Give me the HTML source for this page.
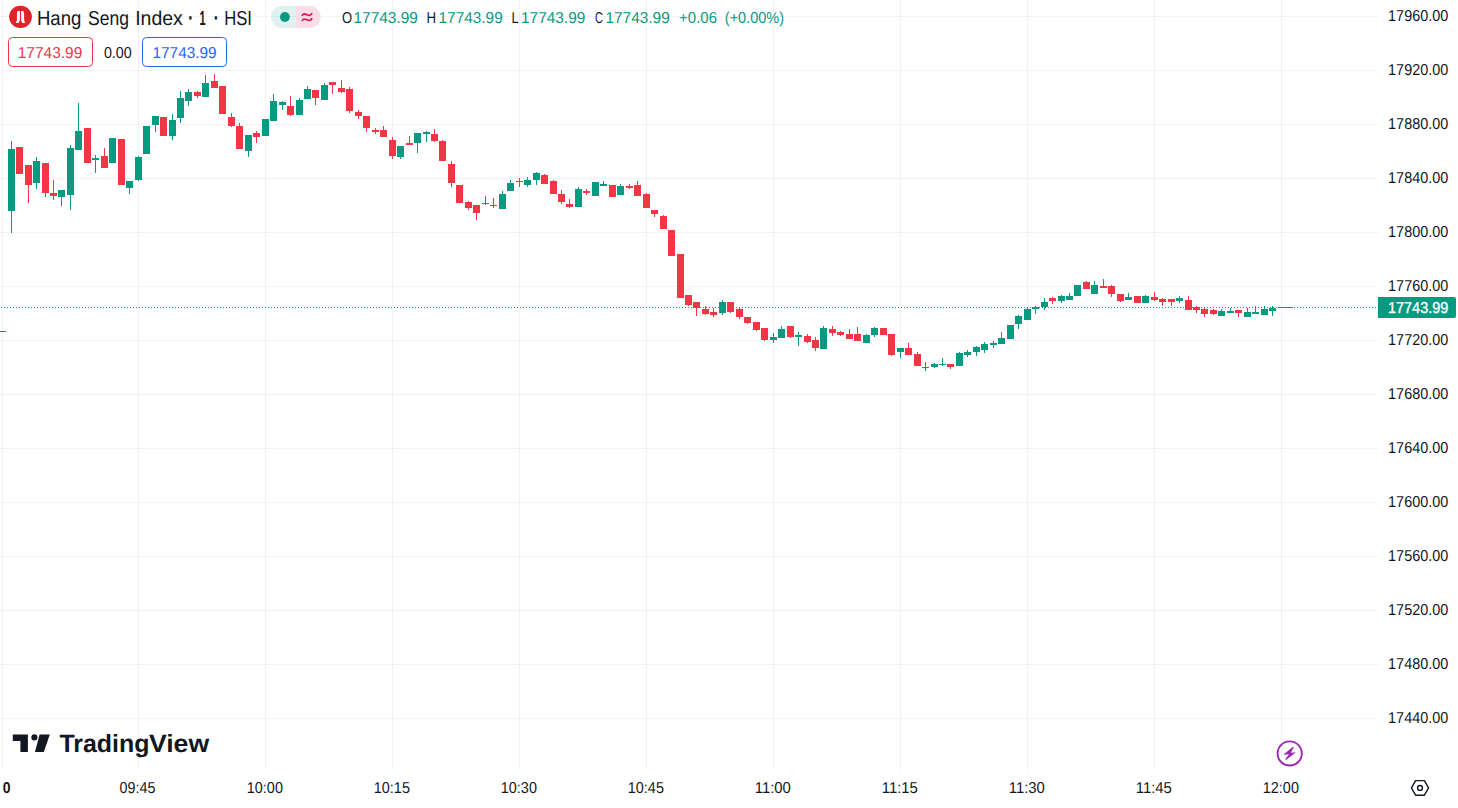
<!DOCTYPE html>
<html lang="en">
<head>
<meta charset="utf-8">
<title>Hang Seng Index chart</title>
<style>
html,body{margin:0;padding:0;background:#fff;overflow:hidden;}
body{width:1458px;height:808px;overflow:hidden;position:relative;font-family:"Liberation Sans", sans-serif;}
svg{position:absolute;left:0;top:0;display:block;}
svg text{font-family:"Liberation Sans", sans-serif;white-space:pre;}
</style>
</head>
<body>
<svg width="1458" height="808" viewBox="0 0 1458 808">
<g id="grid" shape-rendering="crispEdges">
<rect x="0" y="16" width="1378" height="1" fill="rgba(42,52,57,0.058)"/>
<rect x="0" y="70" width="1378" height="1" fill="rgba(42,52,57,0.058)"/>
<rect x="0" y="124" width="1378" height="1" fill="rgba(42,52,57,0.058)"/>
<rect x="0" y="178" width="1378" height="1" fill="rgba(42,52,57,0.058)"/>
<rect x="0" y="232" width="1378" height="1" fill="rgba(42,52,57,0.058)"/>
<rect x="0" y="286" width="1378" height="1" fill="rgba(42,52,57,0.058)"/>
<rect x="0" y="340" width="1378" height="1" fill="rgba(42,52,57,0.058)"/>
<rect x="0" y="394" width="1378" height="1" fill="rgba(42,52,57,0.058)"/>
<rect x="0" y="448" width="1378" height="1" fill="rgba(42,52,57,0.058)"/>
<rect x="0" y="502" width="1378" height="1" fill="rgba(42,52,57,0.058)"/>
<rect x="0" y="556" width="1378" height="1" fill="rgba(42,52,57,0.058)"/>
<rect x="0" y="610" width="1378" height="1" fill="rgba(42,52,57,0.058)"/>
<rect x="0" y="664" width="1378" height="1" fill="rgba(42,52,57,0.058)"/>
<rect x="0" y="718" width="1378" height="1" fill="rgba(42,52,57,0.058)"/>
<rect x="2" y="0" width="1" height="770" fill="rgba(42,52,57,0.058)"/>
<rect x="138" y="0" width="1" height="770" fill="rgba(42,52,57,0.058)"/>
<rect x="265" y="0" width="1" height="770" fill="rgba(42,52,57,0.058)"/>
<rect x="392" y="0" width="1" height="770" fill="rgba(42,52,57,0.058)"/>
<rect x="519" y="0" width="1" height="770" fill="rgba(42,52,57,0.058)"/>
<rect x="646" y="0" width="1" height="770" fill="rgba(42,52,57,0.058)"/>
<rect x="773" y="0" width="1" height="770" fill="rgba(42,52,57,0.058)"/>
<rect x="900" y="0" width="1" height="770" fill="rgba(42,52,57,0.058)"/>
<rect x="1027" y="0" width="1" height="770" fill="rgba(42,52,57,0.058)"/>
<rect x="1154" y="0" width="1" height="770" fill="rgba(42,52,57,0.058)"/>
<rect x="1281" y="0" width="1" height="770" fill="rgba(42,52,57,0.058)"/>
</g>
<g id="candles" shape-rendering="crispEdges">
<rect x="-1" y="331" width="7" height="1" fill="#089981"/>
<rect x="11" y="141" width="1" height="92" fill="#089981"/>
<rect x="8" y="149" width="7" height="62" fill="#089981"/>
<rect x="16" y="147" width="7" height="27" fill="#f23645"/>
<rect x="28" y="165" width="1" height="38" fill="#f23645"/>
<rect x="25" y="165" width="7" height="20" fill="#f23645"/>
<rect x="36" y="157" width="1" height="32" fill="#089981"/>
<rect x="33" y="161" width="7" height="22" fill="#089981"/>
<rect x="45" y="163" width="1" height="34" fill="#f23645"/>
<rect x="42" y="163" width="7" height="30" fill="#f23645"/>
<rect x="53" y="180" width="1" height="20" fill="#f23645"/>
<rect x="50" y="193" width="7" height="3" fill="#f23645"/>
<rect x="61" y="190" width="1" height="16" fill="#089981"/>
<rect x="58" y="190" width="7" height="7" fill="#089981"/>
<rect x="70" y="145" width="1" height="65" fill="#089981"/>
<rect x="67" y="148" width="7" height="47" fill="#089981"/>
<rect x="78" y="103" width="1" height="47" fill="#089981"/>
<rect x="75" y="131" width="7" height="19" fill="#089981"/>
<rect x="84" y="128" width="7" height="35" fill="#f23645"/>
<rect x="95" y="155" width="1" height="18" fill="#089981"/>
<rect x="92" y="158" width="7" height="2" fill="#089981"/>
<rect x="104" y="148" width="1" height="20" fill="#f23645"/>
<rect x="101" y="156" width="7" height="12" fill="#f23645"/>
<rect x="109" y="138" width="7" height="25" fill="#089981"/>
<rect x="118" y="139" width="7" height="46" fill="#f23645"/>
<rect x="129" y="181" width="1" height="13" fill="#089981"/>
<rect x="126" y="181" width="7" height="7" fill="#089981"/>
<rect x="138" y="156" width="1" height="25" fill="#089981"/>
<rect x="135" y="157" width="7" height="23" fill="#089981"/>
<rect x="143" y="126" width="7" height="28" fill="#089981"/>
<rect x="155" y="116" width="1" height="16" fill="#089981"/>
<rect x="152" y="116" width="7" height="9" fill="#089981"/>
<rect x="160" y="117" width="7" height="19" fill="#f23645"/>
<rect x="172" y="114" width="1" height="26" fill="#089981"/>
<rect x="169" y="120" width="7" height="16" fill="#089981"/>
<rect x="180" y="91" width="1" height="32" fill="#089981"/>
<rect x="177" y="98" width="7" height="20" fill="#089981"/>
<rect x="188" y="89" width="1" height="17" fill="#089981"/>
<rect x="185" y="92" width="7" height="9" fill="#089981"/>
<rect x="197" y="91" width="1" height="7" fill="#f23645"/>
<rect x="194" y="92" width="7" height="4" fill="#f23645"/>
<rect x="205" y="75" width="1" height="22" fill="#089981"/>
<rect x="202" y="83" width="7" height="14" fill="#089981"/>
<rect x="214" y="74" width="1" height="14" fill="#f23645"/>
<rect x="211" y="81" width="7" height="7" fill="#f23645"/>
<rect x="219" y="86" width="7" height="28" fill="#f23645"/>
<rect x="231" y="113" width="1" height="14" fill="#f23645"/>
<rect x="228" y="117" width="7" height="9" fill="#f23645"/>
<rect x="239" y="123" width="1" height="26" fill="#f23645"/>
<rect x="236" y="126" width="7" height="23" fill="#f23645"/>
<rect x="248" y="135" width="1" height="22" fill="#089981"/>
<rect x="245" y="135" width="7" height="16" fill="#089981"/>
<rect x="256" y="131" width="1" height="12" fill="#f23645"/>
<rect x="253" y="133" width="7" height="4" fill="#f23645"/>
<rect x="262" y="119" width="7" height="17" fill="#089981"/>
<rect x="273" y="94" width="1" height="27" fill="#089981"/>
<rect x="270" y="101" width="7" height="20" fill="#089981"/>
<rect x="282" y="101" width="1" height="9" fill="#089981"/>
<rect x="279" y="102" width="7" height="3" fill="#089981"/>
<rect x="290" y="96" width="1" height="20" fill="#f23645"/>
<rect x="287" y="106" width="7" height="9" fill="#f23645"/>
<rect x="299" y="98" width="1" height="17" fill="#089981"/>
<rect x="296" y="100" width="7" height="15" fill="#089981"/>
<rect x="307" y="86" width="1" height="13" fill="#089981"/>
<rect x="304" y="89" width="7" height="10" fill="#089981"/>
<rect x="315" y="90" width="1" height="15" fill="#f23645"/>
<rect x="312" y="90" width="7" height="8" fill="#f23645"/>
<rect x="324" y="83" width="1" height="17" fill="#089981"/>
<rect x="321" y="85" width="7" height="15" fill="#089981"/>
<rect x="332" y="82" width="1" height="12" fill="#f23645"/>
<rect x="329" y="82" width="7" height="3" fill="#f23645"/>
<rect x="341" y="80" width="1" height="13" fill="#f23645"/>
<rect x="338" y="88" width="7" height="4" fill="#f23645"/>
<rect x="349" y="87" width="1" height="26" fill="#f23645"/>
<rect x="346" y="89" width="7" height="22" fill="#f23645"/>
<rect x="358" y="110" width="1" height="9" fill="#f23645"/>
<rect x="355" y="112" width="7" height="4" fill="#f23645"/>
<rect x="366" y="116" width="1" height="16" fill="#f23645"/>
<rect x="363" y="116" width="7" height="12" fill="#f23645"/>
<rect x="375" y="128" width="1" height="6" fill="#f23645"/>
<rect x="372" y="130" width="7" height="2" fill="#f23645"/>
<rect x="383" y="126" width="1" height="11" fill="#f23645"/>
<rect x="380" y="130" width="7" height="7" fill="#f23645"/>
<rect x="392" y="137" width="1" height="22" fill="#f23645"/>
<rect x="389" y="140" width="7" height="16" fill="#f23645"/>
<rect x="400" y="146" width="1" height="13" fill="#089981"/>
<rect x="397" y="146" width="7" height="11" fill="#089981"/>
<rect x="409" y="136" width="1" height="9" fill="#f23645"/>
<rect x="406" y="143" width="7" height="2" fill="#f23645"/>
<rect x="417" y="133" width="1" height="20" fill="#089981"/>
<rect x="414" y="133" width="7" height="10" fill="#089981"/>
<rect x="426" y="131" width="1" height="11" fill="#089981"/>
<rect x="423" y="132" width="7" height="2" fill="#089981"/>
<rect x="434" y="129" width="1" height="13" fill="#f23645"/>
<rect x="431" y="134" width="7" height="7" fill="#f23645"/>
<rect x="442" y="140" width="1" height="21" fill="#f23645"/>
<rect x="439" y="141" width="7" height="20" fill="#f23645"/>
<rect x="451" y="161" width="1" height="26" fill="#f23645"/>
<rect x="448" y="164" width="7" height="19" fill="#f23645"/>
<rect x="456" y="185" width="7" height="18" fill="#f23645"/>
<rect x="468" y="201" width="1" height="9" fill="#f23645"/>
<rect x="465" y="202" width="7" height="6" fill="#f23645"/>
<rect x="476" y="205" width="1" height="15" fill="#f23645"/>
<rect x="473" y="205" width="7" height="8" fill="#f23645"/>
<rect x="485" y="196" width="1" height="9" fill="#089981"/>
<rect x="482" y="203" width="7" height="1" fill="#089981"/>
<rect x="493" y="198" width="1" height="10" fill="#f23645"/>
<rect x="490" y="205" width="7" height="1" fill="#f23645"/>
<rect x="502" y="191" width="1" height="18" fill="#089981"/>
<rect x="499" y="194" width="7" height="15" fill="#089981"/>
<rect x="510" y="180" width="1" height="11" fill="#089981"/>
<rect x="507" y="183" width="7" height="8" fill="#089981"/>
<rect x="519" y="178" width="1" height="9" fill="#f23645"/>
<rect x="516" y="181" width="7" height="1" fill="#f23645"/>
<rect x="527" y="177" width="1" height="10" fill="#089981"/>
<rect x="524" y="180" width="7" height="5" fill="#089981"/>
<rect x="536" y="172" width="1" height="13" fill="#089981"/>
<rect x="533" y="173" width="7" height="7" fill="#089981"/>
<rect x="544" y="174" width="1" height="10" fill="#f23645"/>
<rect x="541" y="175" width="7" height="9" fill="#f23645"/>
<rect x="553" y="180" width="1" height="14" fill="#f23645"/>
<rect x="550" y="181" width="7" height="13" fill="#f23645"/>
<rect x="561" y="190" width="1" height="14" fill="#f23645"/>
<rect x="558" y="194" width="7" height="8" fill="#f23645"/>
<rect x="569" y="199" width="1" height="9" fill="#f23645"/>
<rect x="566" y="204" width="7" height="3" fill="#f23645"/>
<rect x="578" y="187" width="1" height="20" fill="#089981"/>
<rect x="575" y="189" width="7" height="18" fill="#089981"/>
<rect x="586" y="189" width="1" height="6" fill="#f23645"/>
<rect x="583" y="191" width="7" height="2" fill="#f23645"/>
<rect x="592" y="182" width="7" height="14" fill="#089981"/>
<rect x="603" y="181" width="1" height="5" fill="#089981"/>
<rect x="600" y="184" width="7" height="2" fill="#089981"/>
<rect x="609" y="185" width="7" height="12" fill="#f23645"/>
<rect x="620" y="184" width="1" height="11" fill="#089981"/>
<rect x="617" y="186" width="7" height="9" fill="#089981"/>
<rect x="629" y="184" width="1" height="5" fill="#f23645"/>
<rect x="626" y="186" width="7" height="2" fill="#f23645"/>
<rect x="637" y="181" width="1" height="15" fill="#f23645"/>
<rect x="634" y="185" width="7" height="11" fill="#f23645"/>
<rect x="646" y="193" width="1" height="15" fill="#f23645"/>
<rect x="643" y="194" width="7" height="14" fill="#f23645"/>
<rect x="654" y="210" width="1" height="7" fill="#f23645"/>
<rect x="651" y="210" width="7" height="4" fill="#f23645"/>
<rect x="663" y="215" width="1" height="14" fill="#f23645"/>
<rect x="660" y="216" width="7" height="13" fill="#f23645"/>
<rect x="668" y="230" width="7" height="26" fill="#f23645"/>
<rect x="677" y="254" width="7" height="44" fill="#f23645"/>
<rect x="688" y="295" width="1" height="11" fill="#f23645"/>
<rect x="685" y="295" width="7" height="10" fill="#f23645"/>
<rect x="696" y="302" width="1" height="14" fill="#f23645"/>
<rect x="693" y="302" width="7" height="6" fill="#f23645"/>
<rect x="705" y="306" width="1" height="9" fill="#f23645"/>
<rect x="702" y="309" width="7" height="5" fill="#f23645"/>
<rect x="713" y="308" width="1" height="9" fill="#f23645"/>
<rect x="710" y="312" width="7" height="3" fill="#f23645"/>
<rect x="722" y="300" width="1" height="15" fill="#089981"/>
<rect x="719" y="302" width="7" height="11" fill="#089981"/>
<rect x="730" y="302" width="1" height="11" fill="#f23645"/>
<rect x="727" y="302" width="7" height="10" fill="#f23645"/>
<rect x="739" y="307" width="1" height="12" fill="#f23645"/>
<rect x="736" y="309" width="7" height="8" fill="#f23645"/>
<rect x="747" y="317" width="1" height="7" fill="#f23645"/>
<rect x="744" y="317" width="7" height="6" fill="#f23645"/>
<rect x="756" y="322" width="1" height="9" fill="#f23645"/>
<rect x="753" y="322" width="7" height="8" fill="#f23645"/>
<rect x="764" y="328" width="1" height="13" fill="#f23645"/>
<rect x="761" y="328" width="7" height="12" fill="#f23645"/>
<rect x="773" y="333" width="1" height="10" fill="#089981"/>
<rect x="770" y="337" width="7" height="3" fill="#089981"/>
<rect x="781" y="326" width="1" height="12" fill="#089981"/>
<rect x="778" y="329" width="7" height="9" fill="#089981"/>
<rect x="790" y="326" width="1" height="12" fill="#f23645"/>
<rect x="787" y="326" width="7" height="11" fill="#f23645"/>
<rect x="798" y="332" width="1" height="14" fill="#089981"/>
<rect x="795" y="335" width="7" height="2" fill="#089981"/>
<rect x="807" y="334" width="1" height="9" fill="#f23645"/>
<rect x="804" y="336" width="7" height="6" fill="#f23645"/>
<rect x="815" y="337" width="1" height="14" fill="#f23645"/>
<rect x="812" y="340" width="7" height="8" fill="#f23645"/>
<rect x="823" y="326" width="1" height="23" fill="#089981"/>
<rect x="820" y="328" width="7" height="21" fill="#089981"/>
<rect x="832" y="326" width="1" height="10" fill="#f23645"/>
<rect x="829" y="329" width="7" height="4" fill="#f23645"/>
<rect x="840" y="331" width="1" height="5" fill="#f23645"/>
<rect x="837" y="332" width="7" height="3" fill="#f23645"/>
<rect x="849" y="329" width="1" height="10" fill="#f23645"/>
<rect x="846" y="334" width="7" height="5" fill="#f23645"/>
<rect x="857" y="327" width="1" height="14" fill="#f23645"/>
<rect x="854" y="334" width="7" height="7" fill="#f23645"/>
<rect x="866" y="334" width="1" height="9" fill="#089981"/>
<rect x="863" y="335" width="7" height="8" fill="#089981"/>
<rect x="874" y="327" width="1" height="10" fill="#089981"/>
<rect x="871" y="328" width="7" height="7" fill="#089981"/>
<rect x="880" y="328" width="7" height="7" fill="#f23645"/>
<rect x="891" y="334" width="1" height="22" fill="#f23645"/>
<rect x="888" y="334" width="7" height="21" fill="#f23645"/>
<rect x="900" y="348" width="1" height="10" fill="#089981"/>
<rect x="897" y="348" width="7" height="4" fill="#089981"/>
<rect x="908" y="343" width="1" height="12" fill="#f23645"/>
<rect x="905" y="348" width="7" height="7" fill="#f23645"/>
<rect x="917" y="352" width="1" height="14" fill="#f23645"/>
<rect x="914" y="354" width="7" height="12" fill="#f23645"/>
<rect x="925" y="362" width="1" height="9" fill="#f23645"/>
<rect x="922" y="367" width="7" height="1" fill="#f23645"/>
<rect x="934" y="363" width="1" height="5" fill="#089981"/>
<rect x="931" y="364" width="7" height="3" fill="#089981"/>
<rect x="942" y="358" width="1" height="8" fill="#089981"/>
<rect x="939" y="364" width="7" height="1" fill="#089981"/>
<rect x="950" y="364" width="1" height="5" fill="#f23645"/>
<rect x="947" y="364" width="7" height="3" fill="#f23645"/>
<rect x="959" y="352" width="1" height="14" fill="#089981"/>
<rect x="956" y="353" width="7" height="13" fill="#089981"/>
<rect x="967" y="350" width="1" height="7" fill="#089981"/>
<rect x="964" y="352" width="7" height="3" fill="#089981"/>
<rect x="976" y="346" width="1" height="10" fill="#089981"/>
<rect x="973" y="347" width="7" height="5" fill="#089981"/>
<rect x="984" y="342" width="1" height="11" fill="#089981"/>
<rect x="981" y="344" width="7" height="6" fill="#089981"/>
<rect x="993" y="341" width="1" height="7" fill="#089981"/>
<rect x="990" y="343" width="7" height="2" fill="#089981"/>
<rect x="1001" y="332" width="1" height="12" fill="#089981"/>
<rect x="998" y="338" width="7" height="6" fill="#089981"/>
<rect x="1007" y="325" width="7" height="14" fill="#089981"/>
<rect x="1018" y="315" width="1" height="14" fill="#089981"/>
<rect x="1015" y="316" width="7" height="8" fill="#089981"/>
<rect x="1027" y="307" width="1" height="13" fill="#089981"/>
<rect x="1024" y="309" width="7" height="11" fill="#089981"/>
<rect x="1035" y="306" width="1" height="8" fill="#089981"/>
<rect x="1032" y="307" width="7" height="2" fill="#089981"/>
<rect x="1044" y="298" width="1" height="12" fill="#089981"/>
<rect x="1041" y="302" width="7" height="5" fill="#089981"/>
<rect x="1052" y="297" width="1" height="7" fill="#f23645"/>
<rect x="1049" y="298" width="7" height="3" fill="#f23645"/>
<rect x="1061" y="295" width="1" height="8" fill="#089981"/>
<rect x="1058" y="296" width="7" height="5" fill="#089981"/>
<rect x="1069" y="293" width="1" height="7" fill="#089981"/>
<rect x="1066" y="296" width="7" height="4" fill="#089981"/>
<rect x="1074" y="285" width="7" height="11" fill="#089981"/>
<rect x="1086" y="281" width="1" height="8" fill="#f23645"/>
<rect x="1083" y="282" width="7" height="7" fill="#f23645"/>
<rect x="1094" y="281" width="1" height="13" fill="#089981"/>
<rect x="1091" y="285" width="7" height="9" fill="#089981"/>
<rect x="1103" y="279" width="1" height="9" fill="#f23645"/>
<rect x="1100" y="286" width="7" height="2" fill="#f23645"/>
<rect x="1111" y="285" width="1" height="12" fill="#f23645"/>
<rect x="1108" y="286" width="7" height="8" fill="#f23645"/>
<rect x="1120" y="294" width="1" height="8" fill="#f23645"/>
<rect x="1117" y="294" width="7" height="7" fill="#f23645"/>
<rect x="1128" y="293" width="1" height="7" fill="#089981"/>
<rect x="1125" y="297" width="7" height="3" fill="#089981"/>
<rect x="1134" y="296" width="7" height="7" fill="#f23645"/>
<rect x="1145" y="295" width="1" height="8" fill="#089981"/>
<rect x="1142" y="296" width="7" height="7" fill="#089981"/>
<rect x="1154" y="292" width="1" height="9" fill="#f23645"/>
<rect x="1151" y="297" width="7" height="3" fill="#f23645"/>
<rect x="1162" y="298" width="1" height="8" fill="#f23645"/>
<rect x="1159" y="299" width="7" height="3" fill="#f23645"/>
<rect x="1171" y="299" width="1" height="7" fill="#f23645"/>
<rect x="1168" y="299" width="7" height="3" fill="#f23645"/>
<rect x="1179" y="296" width="1" height="7" fill="#089981"/>
<rect x="1176" y="298" width="7" height="3" fill="#089981"/>
<rect x="1188" y="296" width="1" height="14" fill="#f23645"/>
<rect x="1185" y="300" width="7" height="10" fill="#f23645"/>
<rect x="1196" y="306" width="1" height="7" fill="#f23645"/>
<rect x="1193" y="307" width="7" height="3" fill="#f23645"/>
<rect x="1204" y="308" width="1" height="9" fill="#f23645"/>
<rect x="1201" y="309" width="7" height="5" fill="#f23645"/>
<rect x="1213" y="309" width="1" height="6" fill="#f23645"/>
<rect x="1210" y="310" width="7" height="4" fill="#f23645"/>
<rect x="1221" y="309" width="1" height="7" fill="#089981"/>
<rect x="1218" y="311" width="7" height="5" fill="#089981"/>
<rect x="1230" y="308" width="1" height="5" fill="#089981"/>
<rect x="1227" y="311" width="7" height="2" fill="#089981"/>
<rect x="1238" y="310" width="1" height="7" fill="#f23645"/>
<rect x="1235" y="310" width="7" height="3" fill="#f23645"/>
<rect x="1247" y="308" width="1" height="9" fill="#089981"/>
<rect x="1244" y="312" width="7" height="5" fill="#089981"/>
<rect x="1255" y="306" width="1" height="8" fill="#089981"/>
<rect x="1252" y="312" width="7" height="2" fill="#089981"/>
<rect x="1264" y="306" width="1" height="9" fill="#089981"/>
<rect x="1261" y="309" width="7" height="6" fill="#089981"/>
<rect x="1272" y="306" width="1" height="10" fill="#089981"/>
<rect x="1269" y="308" width="7" height="3" fill="#089981"/>
<rect x="1278" y="307" width="7" height="1" fill="#089981"/>
<rect x="1286" y="307" width="7" height="1" fill="#089981"/>
<path d="M1 307.5H1378" stroke="#089981" stroke-width="1" stroke-dasharray="1 2" fill="none"/>
</g>
<!-- price label -->
<path d="M1378 297H1454a2 2 0 0 1 2 2V316a2 2 0 0 1 -2 2H1378Z" fill="#089981"/>
<!-- status pill -->
<path d="M282.1 5.9H295.8V28.1H282.1a11.1 11.1 0 0 1 0 -22.2Z" fill="#089981" fill-opacity="0.13"/>
<path d="M295.8 5.9H309.6a11.1 11.1 0 0 1 0 22.2H295.8Z" fill="#f7c6d6" fill-opacity="0.6"/>
<circle cx="284.9" cy="17" r="4.9" fill="#089981"/>
<g fill="none" stroke="#e0195a" stroke-width="1.8" stroke-linecap="butt">
<path d="M301.9 15.8C303.3 13.4 305.2 13.7 307 14.7S310.6 15.9 312.1 13.1"/>
<path d="M301.9 20.9C303.3 18.5 305.2 18.8 307 19.8S310.6 21 312.1 18.2"/>
</g>
<!-- symbol logo -->
<ellipse cx="20.5" cy="16.85" rx="11.4" ry="11.15" fill="#de2329"/>
<g fill="#fff">
<path d="M17.7 11H19.9V19C19.9 20.6 19.3 21.8 18.6 22.9H15.6C16.5 21.6 16.9 20.4 16.9 19V14.4C16.9 13 17.2 12 17.7 11Z"/>
<path d="M23.3 11H21.1V19C21.1 20.6 21.7 21.8 22.4 22.9H25.4C24.5 21.6 24.1 20.4 24.1 19V14.4C24.1 13 23.8 12 23.3 11Z"/>
</g>
<!-- legend boxes -->
<rect x="8.5" y="37.5" width="84" height="29" rx="4" fill="none" stroke="#f23645" stroke-width="1"/>
<rect x="142.5" y="37.5" width="84" height="29" rx="4" fill="none" stroke="#2962ff" stroke-width="1"/>
<!-- TradingView logo mark -->
<g fill="#131722">
<path d="M12.8 734.4H27.9V751.9H20.4V740.9H12.8Z"/>
<circle cx="34.4" cy="737.4" r="3.05"/>
<path d="M39.6 734.4H49.8L43.8 751.9H35Z"/>
</g>
<!-- lightning icon -->
<g fill="none" stroke="#9c27b0">
<circle cx="1289.7" cy="753.45" r="12.1" stroke-width="1.9"/>
</g>
<path d="M1292.7 746.9L1293.9 747.2L1290.7 752.7L1295.9 752.2L1294.6 753.2L1286.1 760.1L1285.2 759.5L1289 754.3L1283.3 754.8L1284.8 753.6Z" fill="#9c27b0"/>
<!-- settings hex icon -->
<g fill="none" stroke="#131722" stroke-width="1.4" stroke-linejoin="round">
<path d="M1411.4 787.9l4.2-7.3h8.8l4.2 7.3-4.2 7.3h-8.8z"/>
<circle cx="1420.0" cy="787.9" r="2.45"/>
</g>
<g id="labels">
<text transform="translate(36.88 25.00) matrix(1 0 0.002 1 0 0)" font-size="20.2" font-weight="400" fill="#131722" textLength="44.45" lengthAdjust="spacingAndGlyphs">Hang</text>
<text transform="translate(88.00 25.00) matrix(1 0 0.002 1 0 0)" font-size="20.2" font-weight="400" fill="#131722" textLength="40.97" lengthAdjust="spacingAndGlyphs">Seng</text>
<text transform="translate(135.13 25.00) matrix(1 0 0.002 1 0 0)" font-size="20.2" font-weight="400" fill="#131722" textLength="47.76" lengthAdjust="spacingAndGlyphs">Index</text>
<text transform="translate(186.62 25.90) matrix(1 0 0.002 1 0 0)" font-size="30" font-weight="400" fill="#131722" textLength="7.74" lengthAdjust="spacingAndGlyphs">·</text>
<text transform="translate(199.56 25.00) matrix(1 0 0.002 1 0 0)" font-size="20.2" font-weight="700" fill="#131722" textLength="6.06" lengthAdjust="spacingAndGlyphs">1</text>
<text transform="translate(212.07 25.90) matrix(1 0 0.002 1 0 0)" font-size="30" font-weight="400" fill="#131722" textLength="7.74" lengthAdjust="spacingAndGlyphs">·</text>
<text transform="translate(224.18 25.00) matrix(1 0 0.002 1 0 0)" font-size="20.2" font-weight="400" fill="#131722" textLength="27.75" lengthAdjust="spacingAndGlyphs">HSI</text>
<text transform="translate(341.90 23.00) matrix(1 0 0.002 1 0 0)" font-size="15.8" font-weight="400" fill="#131722" textLength="10.14" lengthAdjust="spacingAndGlyphs">O</text>
<text transform="translate(353.52 23.00) matrix(1 0 0.002 1 0 0)" font-size="15.8" font-weight="400" fill="#089981" textLength="64.37" lengthAdjust="spacingAndGlyphs">17743.99</text>
<text transform="translate(426.56 23.00) matrix(1 0 0.002 1 0 0)" font-size="15.8" font-weight="400" fill="#131722" textLength="9.58" lengthAdjust="spacingAndGlyphs">H</text>
<text transform="translate(438.53 23.00) matrix(1 0 0.002 1 0 0)" font-size="15.8" font-weight="400" fill="#089981" textLength="64.16" lengthAdjust="spacingAndGlyphs">17743.99</text>
<text transform="translate(511.49 23.00) matrix(1 0 0.002 1 0 0)" font-size="15.8" font-weight="400" fill="#131722" textLength="7.14" lengthAdjust="spacingAndGlyphs">L</text>
<text transform="translate(521.02 23.00) matrix(1 0 0.002 1 0 0)" font-size="15.8" font-weight="400" fill="#089981" textLength="64.27" lengthAdjust="spacingAndGlyphs">17743.99</text>
<text transform="translate(595.10 23.00) matrix(1 0 0.002 1 0 0)" font-size="15.8" font-weight="400" fill="#131722" textLength="7.88" lengthAdjust="spacingAndGlyphs">C</text>
<text transform="translate(605.42 23.00) matrix(1 0 0.002 1 0 0)" font-size="15.8" font-weight="400" fill="#089981" textLength="64.37" lengthAdjust="spacingAndGlyphs">17743.99</text>
<text transform="translate(679.10 23.00) matrix(1 0 0.002 1 0 0)" font-size="15.8" font-weight="400" fill="#089981" textLength="37.90" lengthAdjust="spacingAndGlyphs">+0.06</text>
<text transform="translate(724.80 23.00) matrix(1 0 0.002 1 0 0)" font-size="15.8" font-weight="400" fill="#089981" textLength="59.24" lengthAdjust="spacingAndGlyphs">(+0.00%)</text>
<text transform="translate(17.67 58.00) matrix(1 0 0.002 1 0 0)" font-size="15.8" font-weight="400" fill="#f23645" textLength="64.62" lengthAdjust="spacingAndGlyphs">17743.99</text>
<text transform="translate(103.90 58.00) matrix(1 0 0.002 1 0 0)" font-size="15.8" font-weight="400" fill="#131722" textLength="27.91" lengthAdjust="spacingAndGlyphs">0.00</text>
<text transform="translate(152.42 58.00) matrix(1 0 0.002 1 0 0)" font-size="15.8" font-weight="400" fill="#2962ff" textLength="64.27" lengthAdjust="spacingAndGlyphs">17743.99</text>
<text transform="translate(1388.09 21.00) matrix(1 0 0.002 1 0 0)" font-size="15.8" font-weight="400" fill="#131722" textLength="60.22" lengthAdjust="spacingAndGlyphs">17960.00</text>
<text transform="translate(1388.09 75.00) matrix(1 0 0.002 1 0 0)" font-size="15.8" font-weight="400" fill="#131722" textLength="60.22" lengthAdjust="spacingAndGlyphs">17920.00</text>
<text transform="translate(1388.09 129.00) matrix(1 0 0.002 1 0 0)" font-size="15.8" font-weight="400" fill="#131722" textLength="60.22" lengthAdjust="spacingAndGlyphs">17880.00</text>
<text transform="translate(1388.09 183.00) matrix(1 0 0.002 1 0 0)" font-size="15.8" font-weight="400" fill="#131722" textLength="60.22" lengthAdjust="spacingAndGlyphs">17840.00</text>
<text transform="translate(1388.09 237.00) matrix(1 0 0.002 1 0 0)" font-size="15.8" font-weight="400" fill="#131722" textLength="60.22" lengthAdjust="spacingAndGlyphs">17800.00</text>
<text transform="translate(1388.09 291.00) matrix(1 0 0.002 1 0 0)" font-size="15.8" font-weight="400" fill="#131722" textLength="60.22" lengthAdjust="spacingAndGlyphs">17760.00</text>
<text transform="translate(1388.09 345.00) matrix(1 0 0.002 1 0 0)" font-size="15.8" font-weight="400" fill="#131722" textLength="60.22" lengthAdjust="spacingAndGlyphs">17720.00</text>
<text transform="translate(1388.09 399.00) matrix(1 0 0.002 1 0 0)" font-size="15.8" font-weight="400" fill="#131722" textLength="60.22" lengthAdjust="spacingAndGlyphs">17680.00</text>
<text transform="translate(1388.09 453.00) matrix(1 0 0.002 1 0 0)" font-size="15.8" font-weight="400" fill="#131722" textLength="60.22" lengthAdjust="spacingAndGlyphs">17640.00</text>
<text transform="translate(1388.09 507.00) matrix(1 0 0.002 1 0 0)" font-size="15.8" font-weight="400" fill="#131722" textLength="60.22" lengthAdjust="spacingAndGlyphs">17600.00</text>
<text transform="translate(1388.09 561.00) matrix(1 0 0.002 1 0 0)" font-size="15.8" font-weight="400" fill="#131722" textLength="60.22" lengthAdjust="spacingAndGlyphs">17560.00</text>
<text transform="translate(1388.09 615.00) matrix(1 0 0.002 1 0 0)" font-size="15.8" font-weight="400" fill="#131722" textLength="60.22" lengthAdjust="spacingAndGlyphs">17520.00</text>
<text transform="translate(1388.09 669.00) matrix(1 0 0.002 1 0 0)" font-size="15.8" font-weight="400" fill="#131722" textLength="60.22" lengthAdjust="spacingAndGlyphs">17480.00</text>
<text transform="translate(1388.09 723.00) matrix(1 0 0.002 1 0 0)" font-size="15.8" font-weight="400" fill="#131722" textLength="60.22" lengthAdjust="spacingAndGlyphs">17440.00</text>
<text transform="translate(1387.98 313.00) matrix(1 0 0.002 1 0 0)" font-size="15.8" font-weight="400" fill="#ffffff" stroke="#ffffff" stroke-width="0.35" textLength="60.32" lengthAdjust="spacingAndGlyphs">17743.99</text>
<text transform="translate(119.50 793.00) matrix(1 0 0.002 1 0 0)" font-size="15.8" font-weight="400" fill="#131722" textLength="35.91" lengthAdjust="spacingAndGlyphs">09:45</text>
<text transform="translate(246.79 793.00) matrix(1 0 0.002 1 0 0)" font-size="15.8" font-weight="400" fill="#131722" textLength="36.12" lengthAdjust="spacingAndGlyphs">10:00</text>
<text transform="translate(373.79 793.00) matrix(1 0 0.002 1 0 0)" font-size="15.8" font-weight="400" fill="#131722" textLength="36.12" lengthAdjust="spacingAndGlyphs">10:15</text>
<text transform="translate(500.79 793.00) matrix(1 0 0.002 1 0 0)" font-size="15.8" font-weight="400" fill="#131722" textLength="36.12" lengthAdjust="spacingAndGlyphs">10:30</text>
<text transform="translate(627.79 793.00) matrix(1 0 0.002 1 0 0)" font-size="15.8" font-weight="400" fill="#131722" textLength="36.12" lengthAdjust="spacingAndGlyphs">10:45</text>
<text transform="translate(754.76 793.00) matrix(1 0 0.002 1 0 0)" font-size="15.8" font-weight="400" fill="#131722" textLength="36.14" lengthAdjust="spacingAndGlyphs">11:00</text>
<text transform="translate(881.76 793.00) matrix(1 0 0.002 1 0 0)" font-size="15.8" font-weight="400" fill="#131722" textLength="36.14" lengthAdjust="spacingAndGlyphs">11:15</text>
<text transform="translate(1008.76 793.00) matrix(1 0 0.002 1 0 0)" font-size="15.8" font-weight="400" fill="#131722" textLength="36.14" lengthAdjust="spacingAndGlyphs">11:30</text>
<text transform="translate(1135.76 793.00) matrix(1 0 0.002 1 0 0)" font-size="15.8" font-weight="400" fill="#131722" textLength="36.14" lengthAdjust="spacingAndGlyphs">11:45</text>
<text transform="translate(1262.79 793.00) matrix(1 0 0.002 1 0 0)" font-size="15.8" font-weight="400" fill="#131722" textLength="36.12" lengthAdjust="spacingAndGlyphs">12:00</text>
<text transform="translate(-14.00 793.00) matrix(1 0 0.002 1 0 0)" font-size="15.8" font-weight="700" fill="#131722" textLength="7.81" lengthAdjust="spacingAndGlyphs">3</text>
<text transform="translate(2.70 793.00) matrix(1 0 0.002 1 0 0)" font-size="15.8" font-weight="700" fill="#131722" textLength="7.81" lengthAdjust="spacingAndGlyphs">0</text>
<text transform="translate(59.40 752.00) matrix(1 0 0.002 1 0 0)" font-size="25" font-weight="700" fill="#131722" textLength="90.17" lengthAdjust="spacingAndGlyphs">Trading</text>
<text transform="translate(148.90 752.00) matrix(1 0 0.002 1 0 0)" font-size="25" font-weight="700" fill="#131722" textLength="60.31" lengthAdjust="spacingAndGlyphs">View</text>
</g>
</svg>
</body>
</html>
